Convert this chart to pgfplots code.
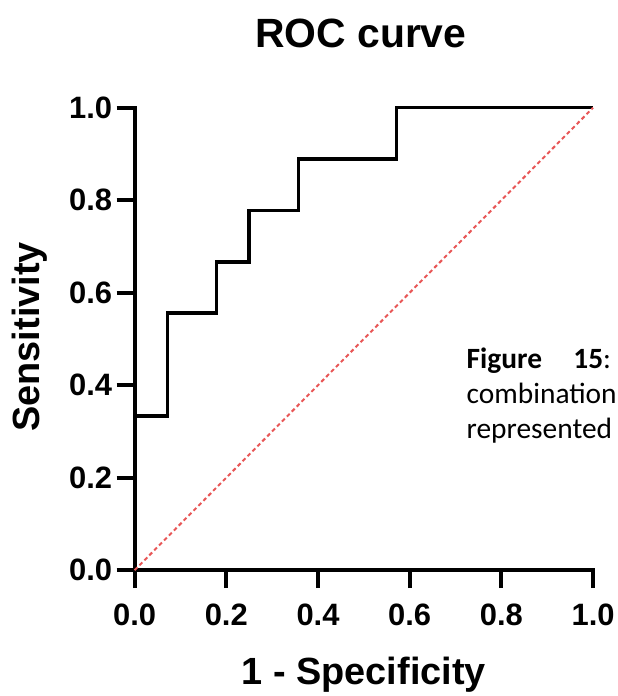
\documentclass[border=0pt]{standalone}
\usepackage{fontspec}
\setmainfont{Liberation Sans}
\newfontfamily\carlito{Carlito}
\usepackage{pgfplots}
\pgfplotsset{compat=1.18}
\definecolor{diagred}{RGB}{232,86,86}
\begin{document}
\begin{tikzpicture}[x=1bp,y=1bp]
\begin{axis}[
  at={(0,0)}, anchor=origin,
  scale only axis, width=460bp, height=464bp,
  xmin=0, xmax=1, ymin=0, ymax=1,
  clip=false,
  axis lines=left,
  axis line style={-, line width=4bp, line cap=rect},
  xtick={0,0.2,0.4,0.6,0.8,1}, ytick={0,0.2,0.4,0.6,0.8,1},
  tick align=outside, major tick length=18bp,
  tick style={line width=4bp, black},
  /pgf/number format/assume math mode=true,
  xticklabel={\pgfmathprintnumber[fixed,fixed zerofill,precision=1]{\tick}},
  yticklabel={\pgfmathprintnumber[fixed,fixed zerofill,precision=1]{\tick}},
  tick label style={font=\fontsize{31bp}{31bp}\selectfont\bfseries},
  xticklabel style={yshift=-12bp},
  yticklabel style={xshift=-1bp},
]
\addplot[line width=3.5bp, line join=miter, black] coordinates {
  (0,0) (0,0.3333) (0.0714,0.3333) (0.0714,0.5556) (0.1786,0.5556)
  (0.1786,0.6667) (0.25,0.6667) (0.25,0.7778) (0.3571,0.7778)
  (0.3571,0.8889) (0.5714,0.8889) (0.5714,1) (1,1)};
\addplot[line width=2bp, diagred, dash pattern=on 4bp off 3bp] coordinates {(0,0) (1,1)};
\end{axis}
% title and labels
\node[anchor=base, font=\fontsize{41bp}{41bp}\selectfont\bfseries] at (227,524) {ROC curve};
\node[anchor=base, rotate=90, font=\fontsize{38bp}{38bp}\selectfont\bfseries] at (-95,234) {Sensitivity};
\node[anchor=base, font=\fontsize{38bp}{38bp}\selectfont\bfseries] at (230,-115) {1 - Specificity};
% caption text cut off at the right
\node[anchor=base west, inner sep=0, font=\carlito\fontsize{29.5bp}{29.5bp}\selectfont] at (333,202) {\textbf{Figure}};
\node[anchor=base west, inner sep=0, font=\carlito\fontsize{29.5bp}{29.5bp}\selectfont] at (440,202) {\textbf{15}:};
\node[anchor=base west, inner sep=0, font=\carlito\fontsize{29.5bp}{29.5bp}\selectfont] at (333,167) {combination};
\node[anchor=base west, inner sep=0, font=\carlito\fontsize{29.5bp}{29.5bp}\selectfont] at (333,132) {represented};
\useasboundingbox (-135,-124) rectangle (484,572);
\end{tikzpicture}
\end{document}
